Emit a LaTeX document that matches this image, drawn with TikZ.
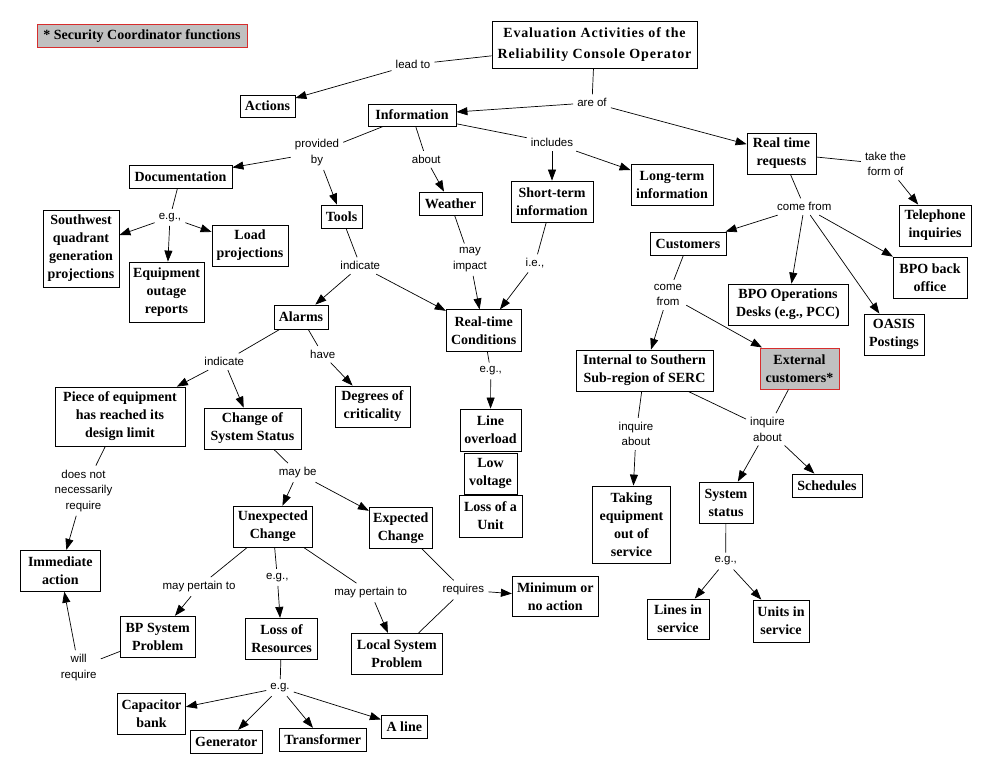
\documentclass[tikz,border=0pt]{standalone}
\usepackage{fontspec}
\setmainfont{Liberation Serif}
\newfontfamily\cmapsans{Liberation Sans}
\newfontfamily\cmaptitle[LetterSpace=6]{Liberation Serif}
\usetikzlibrary{arrows.meta}
\definecolor{legfill}{RGB}{192,192,192}
\definecolor{legred}{RGB}{215,45,45}
\newcommand\cmapboxfont{\bfseries\fontsize{14}{18}\selectfont}
\newcommand\cmaplblfont{\cmapsans\fontsize{11.5}{15.5}\selectfont}
\newcommand\cmaptitlefont{\cmaptitle\bfseries\fontsize{14}{20.5}\selectfont}
\begin{document}
\begin{tikzpicture}[x=1pt,y=-1pt,
  cbox/.style={draw, line width=0.8pt, fill=white, font=\cmapboxfont, align=center, inner sep=0.5pt},
  sz/.style 2 args={minimum width=#1pt, minimum height=#2pt},
  lbl/.style={font=\cmaplblfont, align=center, inner sep=4pt},
  con/.style={line width=0.7pt},
  arr/.style={line width=0.7pt, -{Triangle[length=11pt,width=8pt]}},
  hl/.style={fill=legfill, draw=legred, line width=1pt}]
\useasboundingbox[fill=white] (0,0) rectangle (991,773);

% ---- boxes ----
\node[cbox,hl,sz={210}{23}] (legend) at (142,36.5) {* Security Coordinator functions};
\node[cbox,sz={205}{47},font=\cmaptitlefont] (title) at (594.5,44.5) {Evaluation Activities of the\\Reliability Console Operator};
\node[cbox,sz={55}{22}] (actions) at (267.5,106) {Actions};
\node[cbox,sz={88}{22}] (info) at (412,115) {Information};
\node[cbox,sz={103}{23}] (doc) at (180.5,176.5) {Documentation};
\node[cbox,sz={76}{77}] (sw) at (81,248.5) {Southwest\\quadrant\\generation\\projections};
\node[cbox,sz={76}{41}] (load) at (250,245.5) {Load\\projections};
\node[cbox,sz={75}{60}] (equip) at (166.5,292) {Equipment\\outage\\reports};
\node[cbox,sz={41}{23}] (tools) at (341.5,216.5) {Tools};
\node[cbox,sz={63}{23}] (weather) at (450.5,203.5) {Weather};
\node[cbox,sz={82}{41}] (short) at (552,201.5) {Short-term\\information};
\node[cbox,sz={82}{41}] (long) at (672,184.5) {Long-term\\information};
\node[cbox,sz={69}{41}] (rtr) at (781.5,153.5) {Real time\\requests};
\node[cbox,sz={72}{41}] (tel) at (935,225.5) {Telephone\\inquiries};
\node[cbox,sz={76}{23}] (cust) at (688,243.5) {Customers};
\node[cbox,sz={74}{41}] (bpoback) at (930,277.5) {BPO back\\office};
\node[cbox,sz={120}{41}] (bpoops) at (788,304.5) {BPO Operations\\Desks (e.g., PCC)};
\node[cbox,sz={60}{41}] (oasis) at (894,334.5) {OASIS\\Postings};
\node[cbox,sz={75}{42}] (rtc) at (483.7,330.8) {Real-time\\Conditions};
\node[cbox,sz={54}{24}] (alarms) at (301,317) {Alarms};
\node[cbox,sz={130}{59}] (piece) at (120,416.5) {Piece of equipment\\has reached its\\design limit};
\node[cbox,sz={97}{41}] (cstatus) at (252.5,428.5) {Change of\\System Status};
\node[cbox,sz={75}{41}] (degrees) at (372.5,406.5) {Degrees of\\criticality};
\node[cbox,sz={61}{42}] (lineov) at (490.5,430) {Line\\overload};
\node[cbox,sz={53}{41}] (lowv) at (490.5,473.5) {Low\\voltage};
\node[cbox,sz={63}{42}] (lossu) at (490.5,516) {Loss of a\\Unit};
\node[cbox,sz={137}{41}] (internal) at (644.5,370.5) {Internal to Southern\\Sub-region of SERC};
\node[cbox,hl,sz={79}{41}] (external) at (799.5,368.5) {External\\customers*};
\node[cbox,sz={78}{77}] (taking) at (631.5,524.5) {Taking\\equipment\\out of\\service};
\node[cbox,sz={54}{41}] (sysstat) at (726,502.5) {System\\status};
\node[cbox,sz={70}{23}] (sched) at (827,485.5) {Schedules};
\node[cbox,sz={62}{40}] (linesin) at (678,619) {Lines in\\service};
\node[cbox,sz={56}{42}] (unitsin) at (781,621) {Units in\\service};
\node[cbox,sz={79}{41}] (unexp) at (272.8,526.6) {Unexpected\\Change};
\node[cbox,sz={63}{41}] (expc) at (400.8,527.8) {Expected\\Change};
\node[cbox,sz={80}{41}] (immed) at (60.3,570.8) {Immediate\\action};
\node[cbox,sz={75}{41}] (bp) at (157.7,636.7) {BP System\\Problem};
\node[cbox,sz={72}{41}] (lossr) at (281.5,638.8) {Loss of\\Resources};
\node[cbox,sz={91}{41}] (local) at (396.8,653.8) {Local System\\Problem};
\node[cbox,sz={86}{40}] (minimum) at (555.3,596.8) {Minimum or\\no action};
\node[cbox,sz={68}{41}] (cap) at (151.5,713.8) {Capacitor\\bank};
\node[cbox,sz={72}{23}] (gen) at (226.3,741.7) {Generator};
\node[cbox,sz={87}{23}] (trans) at (322.7,739.7) {Transformer};
\node[cbox,sz={46}{23}] (aline) at (404.3,726.8) {A line};

% ---- linking phrases ----
\node[lbl] (leadto) at (413,64.5) {lead to};
\node[lbl] (areof) at (592,102.7) {are of};
\node[lbl] (provby) at (317,152.7) {provided\\by};
\node[lbl] (about) at (426.3,159.3) {about};
\node[lbl] (includes) at (552,142.7) {includes};
\node[lbl] (takeform) at (885.5,164) {take the\\form of};
\node[lbl] (comefrom) at (804.3,206.7) {come from};
\node[lbl] (eg1) at (170,217.3) {e.g.,};
\node[lbl] (indicate1) at (360.3,265.7) {indicate};
\node[lbl] (mayimpact) at (470,259.7) {may\\impact};
\node[lbl] (ie) at (535,263.3) {i.e.,};
\node[lbl] (comefrom2) at (668,295) {come\\from};
\node[lbl] (indicate2) at (224.3,361.7) {indicate};
\node[lbl] (have) at (322.7,354.3) {have};
\node[lbl] (eg2) at (490.7,371) {e.g.,};
\node[lbl] (dnnr) at (83.5,490.7) {does not\\necessarily\\require};
\node[lbl] (maybe) at (297.7,472.7) {may be};
\node[lbl] (inq1) at (636,434) {inquire\\about};
\node[lbl] (inq2) at (767.5,429.3) {inquire\\about};
\node[lbl] (eg3) at (725.7,561) {e.g.,};
\node[lbl] (mpt1) at (199,586.7) {may pertain to};
\node[lbl] (eg4) at (277.3,577.3) {e.g.,};
\node[lbl] (mpt2) at (370.7,592.7) {may pertain to};
\node[lbl] (requires) at (463.3,590) {requires};
\node[lbl] (willreq) at (78.7,667.5) {will\\require};
\node[lbl] (eg5) at (280,687.7) {e.g.};

% ---- connectors ----
\draw[con] (title) -- (leadto);  \draw[arr] (leadto) -- (actions);
\draw[con] (title) -- (areof);   \draw[arr] (areof) -- (info);  \draw[arr] (areof) -- (rtr);
\draw[con] (info) -- (provby);   \draw[arr] (provby) -- (doc);  \draw[arr] (provby) -- (tools);
\draw[con] (info) -- (about);    \draw[arr] (about) -- (weather);
\draw[con] (info) -- (includes); \draw[arr] (includes) -- (short); \draw[arr] (includes) -- (long);
\draw[con] (rtr) -- (takeform);  \draw[arr] (takeform) -- (tel);
\draw[con] (rtr) -- (comefrom);
\draw[arr] (comefrom) -- (cust); \draw[arr] (comefrom) -- (bpoops);
\draw[arr] (comefrom) -- (oasis); \draw[arr] (comefrom) -- (bpoback);
\draw[con] (doc) -- (eg1);
\draw[arr] (eg1) -- (sw); \draw[arr] (eg1) -- (equip); \draw[arr] (eg1) -- (load);
\draw[con] (tools) -- (indicate1);
\draw[arr] (indicate1) -- (alarms); \draw[arr] (indicate1) -- (rtc);
\draw[con] (weather) -- (mayimpact); \draw[arr] (mayimpact) -- (rtc);
\draw[con] (short) -- (ie); \draw[arr] (ie) -- (rtc);
\draw[con] (cust) -- (comefrom2);
\draw[arr] (comefrom2) -- (internal); \draw[arr] (comefrom2) -- (external);
\draw[con] (alarms) -- (indicate2);
\draw[arr] (indicate2) -- (piece); \draw[arr] (indicate2) -- (cstatus);
\draw[con] (alarms) -- (have); \draw[arr] (have) -- (degrees);
\draw[con] (rtc) -- (eg2); \draw[arr] (eg2) -- (lineov);
\draw[con] (piece) -- (dnnr); \draw[arr] (dnnr) -- (immed);
\draw[con] (cstatus) -- (maybe);
\draw[arr] (maybe) -- (unexp); \draw[arr] (maybe) -- (expc);
\draw[con] (internal) -- (inq1); \draw[arr] (inq1) -- (taking);
\draw[con] (internal) -- (inq2); \draw[con] (external) -- (inq2);
\draw[arr] (inq2) -- (sysstat); \draw[arr] (inq2) -- (sched);
\draw[con] (sysstat) -- (eg3);
\draw[arr] (eg3) -- (linesin); \draw[arr] (eg3) -- (unitsin);
\draw[con] (unexp) -- (mpt1); \draw[arr] (mpt1) -- (bp);
\draw[con] (unexp) -- (eg4); \draw[arr] (eg4) -- (lossr);
\draw[con] (unexp) -- (mpt2); \draw[arr] (mpt2) -- (local);
\draw[con] (expc) -- (requires); \draw[con] (local) -- (requires);
\draw[arr] (requires) -- (minimum);
\draw[con] (bp) -- (willreq); \draw[arr] (willreq) -- (immed);
\draw[con] (lossr) -- (eg5);
\draw[arr] (eg5) -- (cap); \draw[arr] (eg5) -- (gen);
\draw[arr] (eg5) -- (trans); \draw[arr] (eg5) -- (aline);
\end{tikzpicture}
\end{document}
